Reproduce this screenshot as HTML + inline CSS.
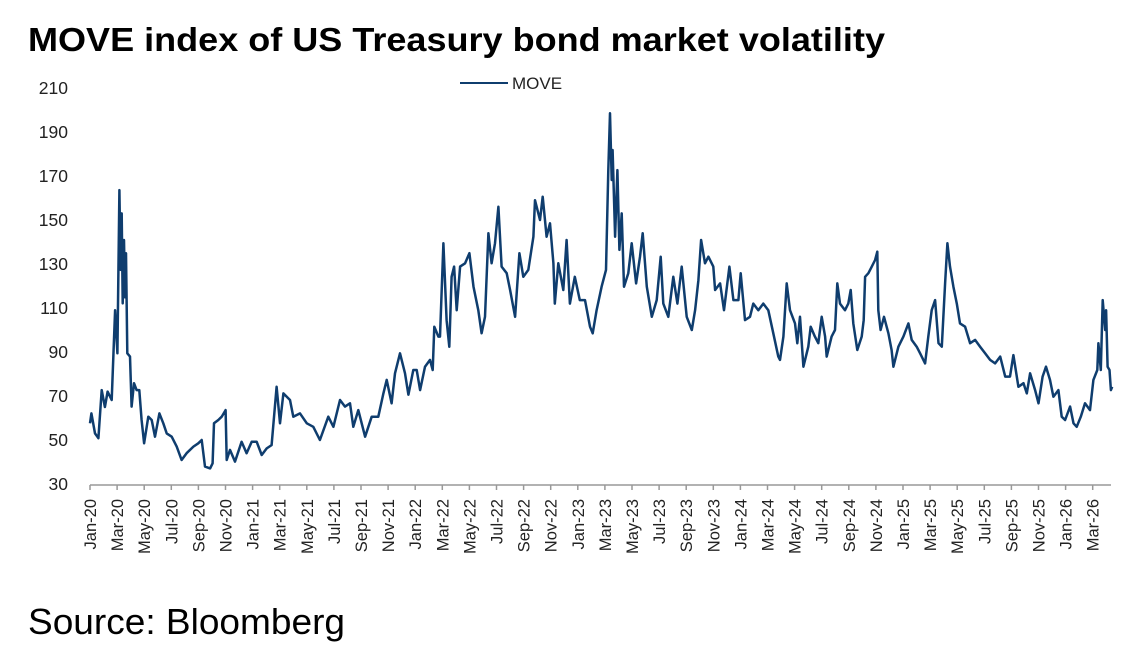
<!DOCTYPE html>
<html><head><meta charset="utf-8"><style>
html,body{margin:0;padding:0;background:#fff;}
svg{display:block;font-family:"Liberation Sans",sans-serif;}
</style></head><body>
<svg id="chart" width="1137" height="649" viewBox="0 0 1137 649" xmlns="http://www.w3.org/2000/svg">
<text x="28" y="51" font-size="33" font-weight="bold" fill="#000" textLength="857" lengthAdjust="spacingAndGlyphs">MOVE index of US Treasury bond market volatility</text>
<g>
<line x1="460" y1="83" x2="508" y2="83" stroke="#0f3d6e" stroke-width="2"/>
<text x="512" y="89" font-size="17" fill="#222">MOVE</text>
</g>
<g id="yaxis"></g>
<g id="xaxis"></g>
<path id="series" fill="none" stroke="#0f3d6e" stroke-width="2.5" stroke-linejoin="round"/>
<text x="28" y="634" font-size="36" fill="#000" textLength="317" lengthAdjust="spacingAndGlyphs">Source: Bloomberg</text>
</svg>
<script>
// months since Jan-2020
const monthsT = [0,0.1,0.37,0.62,0.86,1.1,1.3,1.6,1.85,2.02,2.17,2.26,2.34,2.41,2.51,2.58,2.66,2.75,2.95,3.07,3.25,3.44,3.64,3.81,3.99,4.3,4.55,4.8,5.12,5.41,5.66,6.03,6.4,6.76,7.13,7.63,7.99,8.24,8.49,8.86,9.05,9.15,9.47,9.72,10.01,10.09,10.33,10.7,11.19,11.56,11.93,12.3,12.67,13.04,13.4,13.77,14.02,14.27,14.76,15.0,15.5,16.0,16.48,16.97,17.59,17.96,18.45,18.82,19.19,19.43,19.8,20.3,20.79,21.28,21.65,21.9,22.26,22.51,22.88,23.25,23.5,23.86,24.11,24.36,24.72,25.09,25.29,25.41,25.71,
25.83,26.08,26.32,26.52,26.69,26.87,27.06,27.31,27.68,28.0,28.3,28.66,28.9,29.15,29.4,29.64,29.89,30.14,30.38,30.75,31.0,31.37,31.69,31.98,32.35,32.72,32.84,33.21,33.41,33.7,33.95,34.2,34.3,34.56,34.93,35.17,35.42,35.78,36.15,36.53,36.9,37.1,37.39,37.76,38.08,38.25,38.38,38.5,38.57,38.75,38.92,39.07,39.24,39.41,39.73,39.98,40.3,40.59,40.79,41.09,41.46,41.82,42.12,42.31,42.68,43.05,43.35,43.67,44.04,44.41,44.66,44.9,45.1,45.39,45.64,46.0,46.13,46.5,46.79,47.19,47.48,47.85,48.02,48.34,48.71,48.95,49.32,49.69,50.06,50.43,50.8,
50.92,51.17,51.42,51.66,52.03,52.2,52.4,52.65,53.01,53.19,53.5,53.75,54.0,54.25,54.37,54.73,54.98,55.15,55.35,55.72,55.96,56.14,56.33,56.63,56.95,57.1,57.2,57.45,57.7,57.94,58.1,58.18,58.35,58.6,58.92,59.16,59.29,59.66,60.03,60.4,60.64,61.01,61.26,61.63,61.87,62.12,62.37,62.62,62.86,63.11,63.28,63.47,63.72,63.97,64.21,64.58,64.95,65.32,65.69,66.06,66.43,66.8,67.17,67.54,67.9,68.15,68.52,68.89,69.14,69.38,69.75,70.0,70.3,70.55,70.85,71.1,71.47,71.71,71.96,72.33,72.58,72.82,73.12,73.43,73.8,74.05,74.34,74.42,74.6,74.74,74.92,74.99,75.1,75.24,75.34,75.44];
const moveValues = [57.6,62.1,53,50.8,72.7,65,72,68.2,109,89.4,163.6,127.3,153,112.1,140.9,114.8,134.9,89.4,87.9,65.2,75.8,72.7,72.7,59.1,48.5,60.6,59.1,51.5,62.1,57.6,53,51.5,47,40.9,44,47,48.5,50,37.9,37.1,39.4,57.6,59.1,60.6,63.6,40.9,45.5,40.2,49.2,44,49.2,49.2,43.2,46.2,47.7,74.2,57.6,71.2,68.2,60.6,62.1,57.6,56,50,60.6,56,68.2,65.2,66.7,56,63.6,51.5,60.6,60.6,71.2,77.3,66.7,80.3,89.4,80.3,70.6,81.8,81.8,72.7,83.3,86.4,81.8,101.5,97,
97,139.4,104.5,92.4,124.2,128.8,109,128.8,130.3,134.9,119.7,109,98.5,106,144,130.3,139.4,156,128.8,125.8,118.2,106,134.9,124.2,127.3,142.4,159,150,160.6,142.4,148.5,130.3,112,130.3,118.2,140.9,112,124.2,113.6,113.6,101.5,98.5,109,119.7,127.3,172.7,198.5,168.2,181.8,142.4,172.7,136.4,153,119.7,125.8,139.4,121.2,133.3,144,119.7,106,113.6,133.3,112,106,124.2,112,128.8,106,100,109,122.7,140.9,130.3,133.3,128.8,118.2,121.2,109,128.8,113.6,113.6,125.8,104.5,106,112,109,112,109,98.5,87.9,
86.4,97,121.2,109,103,94,106,83.3,92.4,101.5,97,94,106,97,87.9,97,100,121.2,112,109,112,118.2,103,90.9,97,104.5,124.2,125.8,128.8,131.8,135.6,109,100,106,98.5,90.9,83.3,92.4,97,103,95.5,92.4,89.4,84.8,97,109,113.6,94,92.4,121.2,139.4,128.8,119.7,112,103,101.5,94,95.5,92.4,89.4,86.4,84.8,87.9,78.8,78.8,88.6,74.2,75.8,71.2,80.3,72.7,66.7,78.8,83.3,77.3,69.7,72.7,60.6,59.1,65.2,57.6,56,60.6,66.7,63.6,77.3,81.8,94,81.8,113.6,100,109,83.3,81.8,72.7,74.2];
const yTicks = [30,50,70,90,110,130,150,170,190,210];
const xTickLabels = ["Jan-20","Mar-20","May-20","Jul-20","Sep-20","Nov-20","Jan-21","Mar-21","May-21","Jul-21","Sep-21","Nov-21","Jan-22","Mar-22","May-22","Jul-22","Sep-22","Nov-22","Jan-23","Mar-23","May-23","Jul-23","Sep-23","Nov-23","Jan-24","Mar-24","May-24","Jul-24","Sep-24","Nov-24","Jan-25","Mar-25","May-25","Jul-25","Sep-25","Nov-25","Jan-26","Mar-26"];

const NS="http://www.w3.org/2000/svg";
const X0=90, PXM=13.55, Y0=484, PXU=2.2;
function xs(m){return X0+m*PXM;}
function ys(v){return Y0-(v-30)*PXU;}
const yg=document.getElementById('yaxis');
yTicks.forEach(v=>{
  const t=document.createElementNS(NS,'text');
  
  
  t.setAttribute('x',68);t.setAttribute('y',ys(v)+6);
  t.setAttribute('text-anchor','end');t.setAttribute('font-size','17.5');t.setAttribute('fill','#222');
  t.textContent=v;yg.appendChild(t);
});
const xg=document.getElementById('xaxis');
const ax=document.createElementNS(NS,'line');


ax.setAttribute('x1',X0);ax.setAttribute('x2',1111);ax.setAttribute('y1',485);ax.setAttribute('y2',485);
ax.setAttribute('stroke','#999');ax.setAttribute('stroke-width','1.5');xg.appendChild(ax);
xTickLabels.forEach((lab,i)=>{
  const x=xs(i*2);
  const tk=document.createElementNS(NS,'line');
  
  
  tk.setAttribute('x1',x);tk.setAttribute('x2',x);tk.setAttribute('y1',485);tk.setAttribute('y2',490);
  tk.setAttribute('stroke','#999');tk.setAttribute('stroke-width','1.5');xg.appendChild(tk);
  const t=document.createElementNS(NS,'text');
  
  
  t.setAttribute('transform','translate('+(x+6)+',499) rotate(-90)');
  t.setAttribute('text-anchor','end');t.setAttribute('font-size','16.5');t.setAttribute('fill','#222');
  t.textContent=lab;xg.appendChild(t);
});
let d='';
monthsT.forEach((m,i)=>{d+=(i?'L':'M')+xs(m).toFixed(1)+','+ys(moveValues[i]).toFixed(1);});
document.getElementById('series').setAttribute('d',d);
</script>
</body></html>
